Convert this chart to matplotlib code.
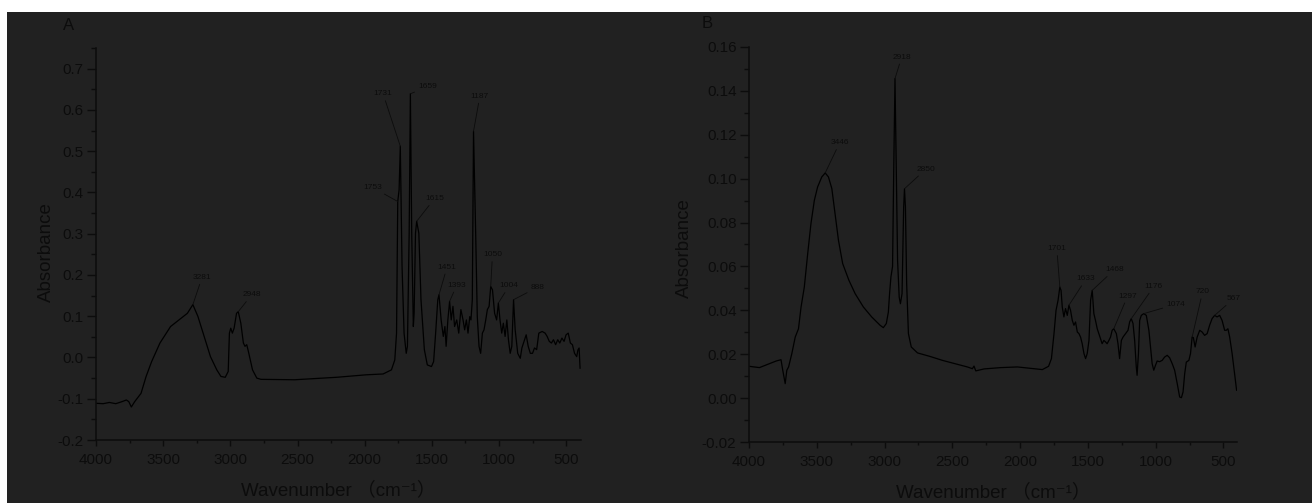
import matplotlib
matplotlib.use("Agg")
import matplotlib.pyplot as plt
from matplotlib.patches import Rectangle
from matplotlib.ticker import MultipleLocator, FormatStrFormatter

plt.rcParams['font.family'] = ['Liberation Sans', 'DejaVu Sans', 'Noto Sans CJK SC']
plt.rcParams['axes.unicode_minus'] = False

# ---------------- Data: panel A ----------------
a_wavenumber = [4000, 3947, 3900, 3853, 3806, 3774, 3756, 3737, 3712, 3665, 3627, 3586,
                3524, 3445, 3367, 3320, 3279, 3242, 3195, 3148, 3101, 3070, 3038, 3016,
                3007, 2997, 2985, 2972, 2954, 2941, 2922, 2903, 2891, 2878, 2866, 2835,
                2803, 2772, 2521, 2208, 1989, 1863, 1801, 1776, 1763, 1754, 1744, 1735,
                1722, 1707, 1691, 1682, 1669, 1660, 1650, 1638, 1632, 1622, 1613, 1597,
                1581, 1556, 1534, 1503, 1487, 1472, 1456, 1447, 1431, 1415, 1403, 1394,
                1381, 1368, 1356, 1343, 1331, 1315, 1300, 1284, 1268, 1256, 1243, 1231,
                1218, 1209, 1199, 1190, 1174, 1162, 1149, 1137, 1124, 1112, 1099, 1087,
                1074, 1062, 1049, 1033, 1018, 1005, 993, 980, 968, 955, 942, 930, 917,
                905, 892, 880, 861, 842, 830, 814, 798, 783, 767, 751, 736, 720, 704,
                679, 657, 642, 626, 610, 595, 579, 563, 548, 532, 516, 501, 485, 469,
                454, 438, 422, 413, 404, 397]
a_absorbance = [-0.111, -0.112, -0.109, -0.112, -0.107, -0.103, -0.107, -0.120, -0.107,
                -0.087, -0.046, -0.010, 0.035, 0.075, 0.095, 0.107, 0.128, 0.100, 0.051,
                0.002, -0.030, -0.046, -0.048, -0.034, 0.059, 0.071, 0.059, 0.071, 0.107,
                0.111, 0.083, 0.035, 0.027, 0.031, 0.015, -0.030, -0.050, -0.053, -0.054,
                -0.048, -0.042, -0.040, -0.030, -0.006, 0.059, 0.378, 0.406, 0.512, 0.221,
                0.059, 0.010, 0.027, 0.301, 0.639, 0.301, 0.075, 0.107, 0.301, 0.330,
                0.301, 0.140, 0.019, -0.018, -0.022, -0.010, 0.059, 0.140, 0.152, 0.091,
                0.051, 0.075, 0.027, 0.091, 0.136, 0.091, 0.124, 0.075, 0.091, 0.059,
                0.116, 0.091, 0.067, 0.091, 0.059, 0.099, 0.091, 0.140, 0.548, 0.301,
                0.099, 0.027, 0.010, 0.059, 0.067, 0.091, 0.116, 0.124, 0.172, 0.164,
                0.107, 0.091, 0.132, 0.091, 0.059, 0.083, 0.051, 0.091, 0.043, 0.010,
                0.027, 0.140, 0.067, 0.010, -0.002, 0.023, 0.039, 0.055, 0.027, 0.010,
                0.010, 0.023, 0.019, 0.059, 0.063, 0.059, 0.051, 0.039, 0.035, 0.043,
                0.031, 0.043, 0.035, 0.047, 0.039, 0.055, 0.059, 0.035, 0.031, 0.010,
                0.002, 0.018, 0.023, -0.026]
a_peak_labels = ['3281', '2948', '1753', '1731', '1659', '1615', '1187', '1451', '1393',
                 '1050', '1004', '888']
a_peak_x = [3279, 2941, 1754, 1735, 1660, 1613, 1190, 1447, 1368, 1062, 1005, 892]
a_peak_y = [0.128, 0.111, 0.378, 0.512, 0.639, 0.330, 0.548, 0.152, 0.136, 0.172, 0.132, 0.140]
a_text_x = [3211, 2841, 1942, 1863, 1534, 1481, 1143, 1387, 1315, 1049, 924, 714]
a_text_y = [0.194, 0.152, 0.412, 0.639, 0.656, 0.385, 0.633, 0.219, 0.175, 0.249, 0.174, 0.170]

# ---------------- Data: panel B ----------------
b_wavenumber = [4000, 3923, 3862, 3800, 3764, 3751, 3733, 3721, 3708, 3684, 3659, 3635,
                3616, 3592, 3567, 3543, 3518, 3494, 3463, 3438, 3414, 3389, 3365, 3340,
                3309, 3263, 3217, 3156, 3095, 3033, 3009, 2987, 2972, 2963, 2953, 2941,
                2932, 2923, 2914, 2904, 2892, 2883, 2871, 2859, 2853, 2846, 2837, 2824,
                2803, 2757, 2665, 2573, 2481, 2389, 2352, 2340, 2327, 2266, 2143, 2020,
                1897, 1836, 1790, 1769, 1750, 1735, 1720, 1707, 1698, 1689, 1677, 1665,
                1652, 1640, 1628, 1615, 1603, 1591, 1578, 1566, 1554, 1542, 1529, 1517,
                1505, 1492, 1480, 1468, 1456, 1444, 1431, 1419, 1407, 1395, 1382, 1370,
                1358, 1345, 1333, 1321, 1309, 1290, 1278, 1266, 1253, 1241, 1222, 1204,
                1192, 1180, 1167, 1155, 1143, 1137, 1127, 1118, 1106, 1088, 1069, 1050,
                1038, 1026, 1014, 1001, 989, 971, 952, 934, 915, 897, 878, 860, 841, 823,
                810, 798, 786, 774, 755, 743, 731, 722, 709, 694, 675, 657, 639, 620, 602,
                584, 565, 547, 528, 510, 491, 479, 467, 454, 436, 424, 412, 403]
b_absorbance = [0.0145, 0.0139, 0.0154, 0.0169, 0.0175, 0.0127, 0.0066, 0.0127, 0.0142,
                0.0203, 0.0278, 0.0316, 0.0415, 0.0506, 0.0658, 0.0795, 0.0901, 0.0962,
                0.1008, 0.1026, 0.1008, 0.0955, 0.0841, 0.0719, 0.0613, 0.0537, 0.0476,
                0.0415, 0.0370, 0.0332, 0.0321, 0.0340, 0.0392, 0.0476, 0.0552, 0.0600,
                0.1053, 0.1456, 0.1053, 0.0628, 0.0460, 0.0430, 0.0476, 0.0871, 0.0954,
                0.0871, 0.0522, 0.0294, 0.0233, 0.0206, 0.0190, 0.0172, 0.0157, 0.0142,
                0.0134, 0.0146, 0.0124, 0.0133, 0.0139, 0.0142, 0.0134, 0.0130, 0.0145,
                0.0180, 0.0294, 0.0400, 0.0446, 0.0506, 0.0491, 0.0415, 0.0370, 0.0408,
                0.0377, 0.0423, 0.0400, 0.0354, 0.0332, 0.0347, 0.0301, 0.0294, 0.0278,
                0.0248, 0.0203, 0.0180, 0.0203, 0.0263, 0.0446, 0.0491, 0.0385, 0.0354,
                0.0316, 0.0294, 0.0271, 0.0248, 0.0263, 0.0256, 0.0248, 0.0263, 0.0278,
                0.0309, 0.0316, 0.0294, 0.0248, 0.0180, 0.0263, 0.0278, 0.0294, 0.0309,
                0.0347, 0.0362, 0.0340, 0.0263, 0.0142, 0.0104, 0.0203, 0.0354, 0.0377,
                0.0385, 0.0377, 0.0309, 0.0233, 0.0157, 0.0127, 0.0150, 0.0169, 0.0166,
                0.0172, 0.0187, 0.0195, 0.0184, 0.0157, 0.0127, 0.0066, 0.0005, 0.0002,
                0.0028, 0.0111, 0.0164, 0.0172, 0.0203, 0.0278, 0.0276, 0.0233, 0.0278,
                0.0309, 0.0301, 0.0286, 0.0294, 0.0332, 0.0362, 0.0377, 0.0370, 0.0377,
                0.0354, 0.0309, 0.0309, 0.0316, 0.0278, 0.0203, 0.0142, 0.0081, 0.0036]
b_peak_labels = ['3446', '2918', '2850', '1701', '1633', '1468', '1297', '1176', '1074',
                 '720', '567']
b_peak_x = [3438, 2923, 2853, 1707, 1640, 1468, 1309, 1180, 1088, 731, 565]
b_peak_y = [0.1026, 0.1456, 0.0954, 0.0506, 0.0423, 0.0491, 0.0316, 0.0362, 0.0385, 0.0278, 0.0377]
b_text_x = [3331, 2874, 2696, 1729, 1514, 1305, 1207, 1013, 854, 654, 424]
b_text_y = [0.1164, 0.1554, 0.1043, 0.0681, 0.0543, 0.0585, 0.0465, 0.0509, 0.0427, 0.0484, 0.0453]

a_yticks = [-0.2, -0.1, 0.0, 0.1, 0.2, 0.3, 0.4, 0.5, 0.6, 0.7]
b_yticks = [-0.02, 0.00, 0.02, 0.04, 0.06, 0.08, 0.10, 0.12, 0.14, 0.16]
xticks = [4000, 3500, 3000, 2500, 2000, 1500, 1000, 500]

x_label = 'Wavenumber （cm⁻¹）'
y_label = 'Absorbance'

BG = '#212121'
INK = '#0c0c0c'

W, H = 1312, 503
fig = plt.figure(figsize=(W / 100, H / 100), dpi=100)
fig.patch.set_facecolor('white')
fig.patches.append(Rectangle((7 / W, 0), 1 - 7 / W, (H - 12) / H,
                             transform=fig.transFigure, facecolor=BG,
                             edgecolor='none', zorder=-10))

def px_axes(left, top, right, bottom):
    return fig.add_axes([left / W, (H - bottom) / H, (right - left) / W, (bottom - top) / H])

axA = px_axes(96, 48, 581, 440)
axB = px_axes(749, 47, 1237, 442)

def style(ax, xlim, ylim, yticks, yminor, yfmt, ylab_x, ylab_y):
    ax.set_facecolor('none')
    ax.set_xlim(*xlim)
    ax.set_ylim(*ylim)
    ax.set_xticks(xticks)
    ax.xaxis.set_minor_locator(MultipleLocator(250))
    ax.set_yticks(yticks)
    ax.yaxis.set_minor_locator(MultipleLocator(yminor))
    ax.yaxis.set_major_formatter(FormatStrFormatter(yfmt))
    for s in ['top', 'right']:
        ax.spines[s].set_visible(False)
    for s in ['left', 'bottom']:
        ax.spines[s].set_color(INK)
        ax.spines[s].set_linewidth(1.1)
    ax.tick_params(axis='y', which='major', direction='out', length=6.5, width=1.0,
                   color=INK, labelcolor=INK, labelsize=11, pad=2.5)
    ax.tick_params(axis='y', which='minor', direction='out', length=3.3, width=1.0, color=INK)
    ax.tick_params(axis='x', which='major', direction='out', length=4.5, width=1.0,
                   color=INK, labelcolor=INK, labelsize=11, pad=4.5)
    ax.tick_params(axis='x', which='minor', direction='out', length=2.5, width=1.0, color=INK)
    ax.set_ylabel(y_label, fontsize=13.5, color=INK)
    ax.yaxis.set_label_coords(ylab_x, ylab_y)
    ax.set_xlabel(x_label, fontsize=13.5, color=INK)
    ax.xaxis.set_label_coords(0.5, -0.105)
    ax.xaxis.label.set_va('top')

def annotate(ax, labels, px, py, tx, ty):
    for lab, x0, y0, x1, y1 in zip(labels, px, py, tx, ty):
        ax.annotate(lab, xy=(x0, y0), xytext=(x1, y1), fontsize=6, color=INK,
                    ha='center', va='center',
                    arrowprops=dict(arrowstyle='-', color=INK, lw=0.6,
                                    shrinkA=0.5, shrinkB=0))

axA.plot(a_wavenumber, a_absorbance, color='black', lw=0.9)
style(axA, (4000, 390), (-0.2, 0.75), a_yticks, 0.05, '%.1f', -0.085, 0.48)
annotate(axA, a_peak_labels, a_peak_x, a_peak_y, a_text_x, a_text_y)

axB.plot(b_wavenumber, b_absorbance, color='black', lw=0.9)
style(axB, (4000, 400), (-0.02, 0.16), b_yticks, 0.01, '%.2f', -0.115, 0.49)
annotate(axB, b_peak_labels, b_peak_x, b_peak_y, b_text_x, b_text_y)

fig.text(69 / W, 1 - 26 / H, 'A', fontsize=12, color=INK, ha='center', va='center')
fig.text(707 / W, 1 - 24 / H, 'B', fontsize=12, color=INK, ha='center', va='center')

fig.savefig('out.png', dpi=100, facecolor=fig.get_facecolor())
